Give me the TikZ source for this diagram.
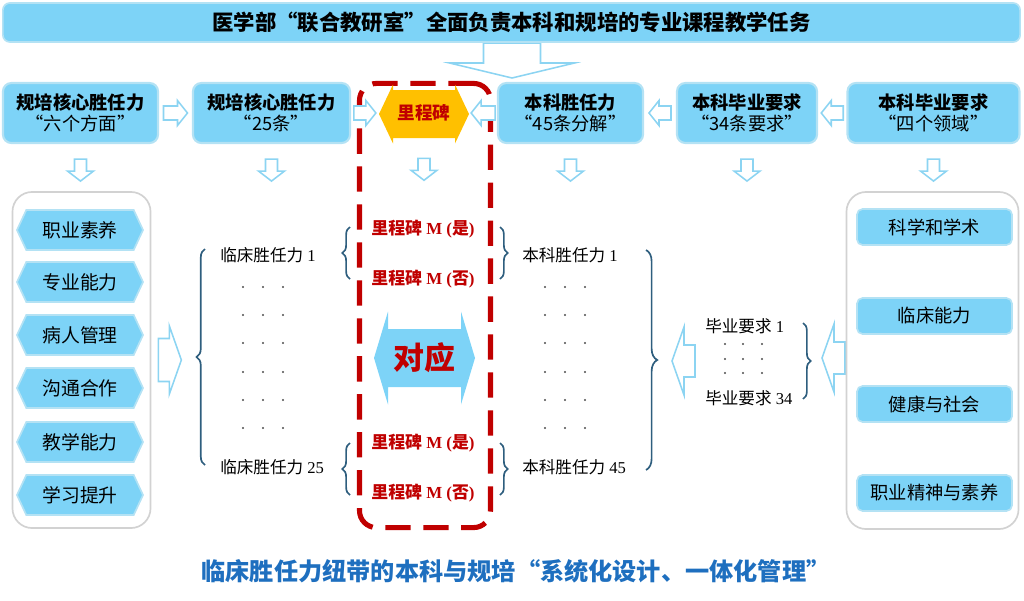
\documentclass[tikz,border=0pt]{standalone}
\usepackage{fontspec}
\setmainfont{Liberation Serif}
\newfontfamily\cjk{Noto Sans CJK SC}
\usetikzlibrary{shapes.symbols,decorations.pathreplacing,calc}

\definecolor{skyfill}{RGB}{125,211,247}
\definecolor{skyline}{RGB}{180,226,244}
\definecolor{arrowline}{RGB}{140,212,242}
\definecolor{panelline}{RGB}{210,210,210}
\definecolor{milered}{RGB}{192,0,0}
\definecolor{mileorange}{RGB}{255,192,0}
\definecolor{braceblue}{RGB}{46,94,126}
\definecolor{capblue}{RGB}{30,111,191}

\def\dT{113}
\def\dA{26}

\tikzset{
  pics/blockarrow/.style n args={4}{code={
    \draw[arrowline, line width=1.1pt, fill=white]
      ({-#1/2},{-#2}) -- ({#1/2-#4},{-#2}) -- ({#1/2-#4},{-#3}) -- ({#1/2},0)
      -- ({#1/2-#4},{#3}) -- ({#1/2-#4},{#2}) -- ({-#1/2},{#2}) -- cycle;
  }},
  pics/twoarrow/.style n args={5}{code={
    \fill[#5] ({-#1/2},0) -- ({-#1/2+#4},{-#3}) -- ({-#1/2+#4},{-#2}) -- ({#1/2-#4},{-#2})
      -- ({#1/2-#4},{-#3}) -- ({#1/2},0) -- ({#1/2-#4},{#3}) -- ({#1/2-#4},{#2})
      -- ({-#1/2+#4},{#2}) -- ({-#1/2+#4},{#3}) -- cycle;
  }},
}

\begin{document}
\begin{tikzpicture}[x=0.025cm, y=-0.025cm,
    topbox/.style={draw=skyline, line width=1.5pt, fill=skyfill, rounded corners=6pt,
      minimum height=1.5cm, align=center, inner sep=1pt,
      font=\cjk\fontsize{13}{15}\selectfont},
    hexbox/.style={shape=signal, signal to=west and east, signal pointer angle=130,
      draw=skyline, line width=1.2pt, fill=skyfill, minimum width=3.15cm, minimum height=1cm,
      inner sep=1pt, font=\cjk\fontsize{13.4}{15}\selectfont},
    areabox/.style={draw=skyline, line width=1.2pt, fill=skyfill, rounded corners=4pt,
      minimum width=3.875cm, minimum height=0.9cm, inner sep=1pt,
      font=\cjk\fontsize{13}{15}\selectfont},
    panel/.style={draw=panelline, line width=1.2pt, rounded corners=14pt},
    frame/.style={draw=milered, line width=3.6pt, dash pattern=on 18pt off 9pt, rounded corners=12pt},
    item/.style={anchor=west, inner sep=0pt, font=\fontsize{11.8}{13}\selectfont},
    mile/.style={text=milered, inner sep=0pt, font=\bfseries\fontsize{12}{14}\selectfont},
    curly/.style={draw=braceblue, line width=1.2pt, decorate, decoration={brace, amplitude=#1}},
    curly/.default=5.5pt,
  ]
  \useasboundingbox (0,0) rectangle (1024,600);

  %% (lable) (x, y) {\text}
  \pic[rotate=-90] at (512,60.5) {blockarrow={35}{28.5}{62.5}{15}};
  \node[draw=skyline, line width=1.2pt, fill=skyfill, rounded corners=5pt,
        minimum width=25.425cm, minimum height=0.975cm,
        font=\cjk\bfseries\fontsize{15.2}{17}\selectfont] (Head) at (511.5,22.5)
        {医学部“联合教研室”全面负责本科和规培的专业课程教学任务};

  \node[frame, minimum width=3.275cm, minimum height=11.1cm] (Frame) at (425,305.5) {};

  \node[topbox, minimum width=3.875cm] (GP6)  at ( 80.5,\dT) {\textbf{规培核心胜任力}\\“六个方面”};
  \node[topbox, minimum width=3.925cm] (GP25) at (271.5,\dT) {\textbf{规培核心胜任力}\\“25条”};
  \node[topbox, minimum width=3.625cm] (BK45) at (570.5,\dT) {\textbf{本科胜任力}\\“45条分解”};
  \node[topbox, minimum width=3.5cm]   (BK34) at (747,  \dT) {\textbf{本科毕业要求}\\“34条要求”};
  \node[topbox, minimum width=4.3cm]   (BK4)  at (933.5,\dT) {\textbf{本科毕业要求}\\“四个领域”};

  \pic at (424,114) {twoarrow={90}{24}{29.5}{14}{mileorange}};
  \node[mile, minimum width=2.25cm, minimum height=1.5cm,
        font=\cjk\bfseries\fontsize{12.5}{14}\selectfont] (Mile) at (424,\dT) {里程碑};

  \pic at ($(GP6.east)!0.5!(GP25.west)$) {blockarrow={24}{7}{12.5}{10}};
  \pic at ($(GP25.east)!0.5!(Mile.west)$) {blockarrow={22}{7}{12.5}{10}};
  \pic[rotate=180] at ($(Mile.east)!0.5!(BK45.west)$) {blockarrow={24}{7}{12.5}{10}};
  \pic[rotate=180] at ($(BK45.east)!0.5!(BK34.west)$) {blockarrow={22}{7}{12.5}{10}};
  \pic[rotate=180] at ($(BK34.east)!0.5!(BK4.west)$) {blockarrow={22}{7}{12.5}{10}};

  \foreach \n in {GP6,GP25,Mile,BK45,BK34,BK4}
    \pic[rotate=-90] at ($(\n.south)+(0,\dA)$) {blockarrow={22}{6}{13}{10}};

  %% left column
  \node[panel, minimum width=3.45cm, minimum height=8.4cm] (LeftPanel) at (81.5,360) {};
  \foreach \y/\t [count=\i] in {230/职业素养,282/专业能力,335/病人管理,388/沟通合作,442/教学能力,495/学习提升}
    \node[hexbox] (H\i) at (80,\y) {\t};
  \pic at ($(LeftPanel.east)+(18.5,0)$) {blockarrow={23}{21.5}{34}{12}};

  \node[item] (C1)  at (220,255) {{\cjk 临床胜任力} 1};
  \node[item] (C25) at (220,467) {{\cjk 临床胜任力} 25};
  \foreach \y in {287,315,343,372,400,428}
    \foreach \x in {243,263,283}
      \fill[black!70] (\x,\y) circle (0.8pt);
  \draw[curly=6pt] ($(C1.west)+(-15,210)$) -- ($(C1.west)+(-15,-6)$);

  %% milestones
  \node[mile] (M1y) at (423,229) {{\cjk 里程碑} M ({\cjk 是})};
  \node[mile] (M1n) at (423,279) {{\cjk 里程碑} M ({\cjk 否})};
  \node[mile] (M2y) at (423,443) {{\cjk 里程碑} M ({\cjk 是})};
  \node[mile] (M2n) at (423,493) {{\cjk 里程碑} M ({\cjk 否})};
  \draw[curly] (350,279) -- (350,227);
  \draw[curly] (500,227) -- (500,279);
  \draw[curly] (350,495) -- (350,443);
  \draw[curly] (500,443) -- (500,495);

  \pic at (424.5,358) {twoarrow={101}{29}{46.5}{14}{skyfill}};
  \node[text=milered, font=\cjk\bfseries\fontsize{22}{24}\selectfont] (Dui) at (424.5,358) {对应};

  %% undergraduate side
  \node[item] (B1)  at (522,255) {{\cjk 本科胜任力} 1};
  \node[item] (B45) at (522,467) {{\cjk 本科胜任力} 45};
  \foreach \y in {287,315,343,372,400,428}
    \foreach \x in {545,565,585}
      \fill[black!70] (\x,\y) circle (0.8pt);
  \draw[curly=8pt] ($(B1.west)+(124,-5)$) -- ($(B45.west)+(124,3)$);
  \pic[rotate=180] at (683.5,361) {blockarrow={23}{16}{34}{12}};

  \node[item] (R1)  at (705,326) {{\cjk 毕业要求} 1};
  \node[item] (R34) at (705,398) {{\cjk 毕业要求} 34};
  \foreach \y in {344,359,373}
    \foreach \x in {725,743,762}
      \fill[black!70] (\x,\y) circle (0.8pt);
  \draw[curly] ($(R1.west)+(98,-3)$) -- ($(R34.west)+(98,1)$);
  \pic[rotate=180] at (833.5,358) {blockarrow={23}{16}{34}{12}};

  %% right column
  \node[panel, minimum width=4.3cm, minimum height=8.425cm] (RightPanel) at (932.5,360.5) {};
  \foreach \y/\t [count=\i] in {227/科学和学术,316/临床能力,404/健康与社会,493/职业精神与素养}
    \node[areabox] (A\i) at (934.5,\y) {\t};

  \node[text=capblue, font=\cjk\bfseries\fontsize{17.2}{19}\selectfont] (Cap) at (516,571)
    {临床胜任力纽带的本科与规培“系统化设计、一体化管理”};
\end{tikzpicture}
\end{document}
